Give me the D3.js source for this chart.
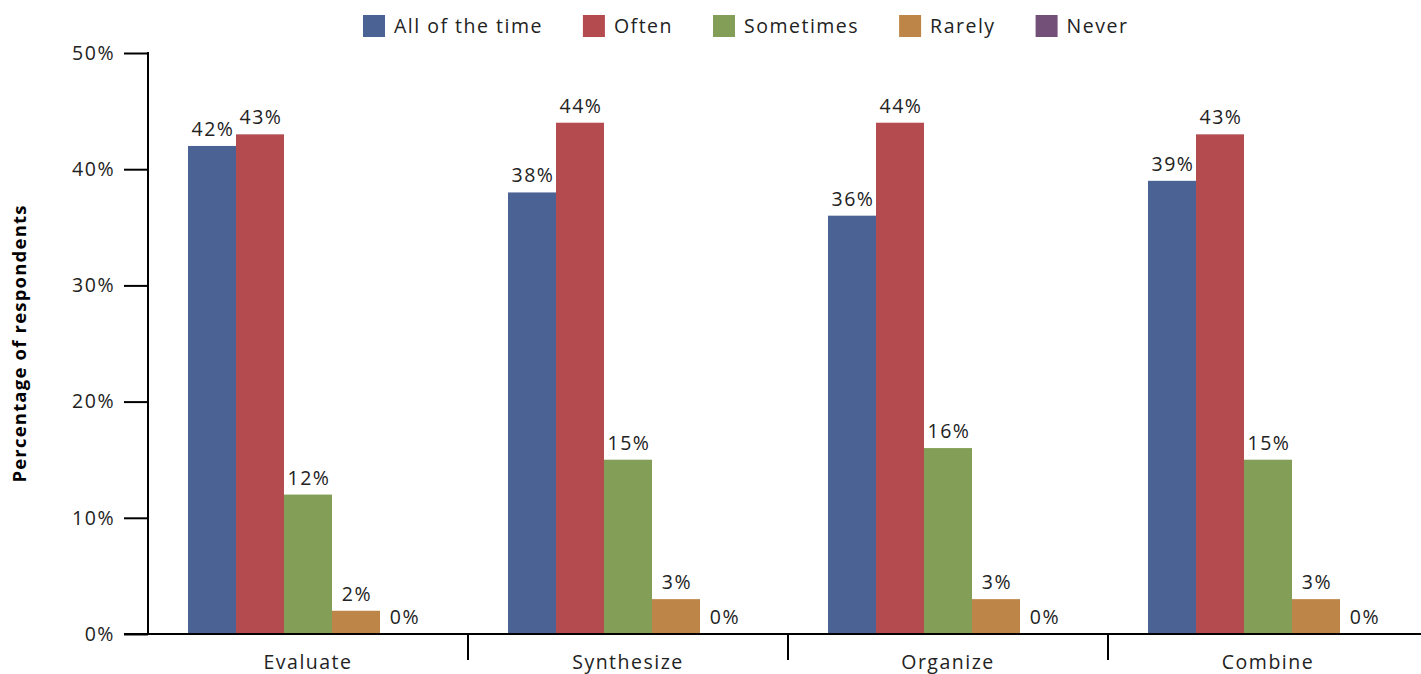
<!DOCTYPE html>
<html>
<head>
<meta charset="utf-8">
<script src="https://cdn.jsdelivr.net/npm/d3@7"></script>
<style>
  body { margin: 0; background: #fff; }
  svg { font-family: "Open Sans", "DejaVu Sans", sans-serif; }
</style>
</head>
<body>
<div id="chart"></div>
<script>
// data
var categories = ["Evaluate", "Synthesize", "Organize", "Combine"];
var seriesNames = ["All of the time", "Often", "Sometimes", "Rarely", "Never"];
var allOfTheTime = [42, 38, 36, 39];
var often = [43, 44, 44, 43];
var sometimes = [12, 15, 16, 15];
var rarely = [2, 3, 3, 3];
var never = [0, 0, 0, 0];
var yTicks = [0, 10, 20, 30, 40, 50];
var colors = ["#4a6394", "#b34b4f", "#839e57", "#be8548", "#725077"];

var seriesValues = [allOfTheTime, often, sometimes, rarely, never];

var svgWidth = 1421;
var svgHeight = 674;
var margin = { top: 53, left: 148, bottom: 40 };
var spacing = "1.5px";

var svg = d3.select("#chart").append("svg")
  .attr("width", svgWidth)
  .attr("height", svgHeight);

var x0 = d3.scaleBand()
  .domain(categories)
  .range([margin.left, margin.left + 1280]);

var x1 = d3.scaleBand()
  .domain(seriesNames)
  .range([40, 280]);

var y = d3.scaleLinear()
  .domain([0, 50])
  .range([svgHeight - margin.bottom, margin.top]);

// bars
var groups = svg.selectAll("g.group")
  .data(categories)
  .enter()
  .append("g")
  .attr("class", "group")
  .attr("transform", d => `translate(${x0(d)},0)`);

groups.selectAll("rect")
  .data((c, i) => seriesNames.map((s, j) => ({ s: s, v: seriesValues[j][i], c: colors[j] })))
  .enter()
  .append("rect")
  .attr("x", d => x1(d.s))
  .attr("width", x1.bandwidth())
  .attr("y", d => y(d.v))
  .attr("height", d => y(0) - y(d.v))
  .attr("fill", d => d.c);

groups.selectAll("text.val")
  .data((c, i) => seriesNames.map((s, j) => ({ s: s, v: seriesValues[j][i] })))
  .enter()
  .append("text")
  .attr("class", "val")
  .attr("x", d => x1(d.s) + x1.bandwidth() / 2 + 1)
  .attr("y", d => y(d.v) - 10)
  .attr("text-anchor", "middle")
  .attr("font-size", "19.5px")
  .style("letter-spacing", spacing)
  .attr("fill", "#222")
  .text(d => d.v + "%");

// y axis
var leftAxis = d3.axisLeft(y)
  .tickValues(yTicks)
  .tickSize(24)
  .tickPadding(9)
  .tickFormat(d => d + "%");

var yAxisG = svg.append("g")
  .attr("transform", `translate(${margin.left},0)`)
  .call(leftAxis);
yAxisG.select(".domain").remove();
yAxisG.selectAll(".tick line").attr("stroke", "#000").attr("stroke-width", 2);
yAxisG.selectAll(".tick text")
  .attr("font-size", "19.5px")
  .attr("font-family", "Open Sans, DejaVu Sans, sans-serif")
  .style("letter-spacing", spacing)
  .attr("fill", "#222");

svg.append("line")
  .attr("x1", margin.left).attr("x2", margin.left)
  .attr("y1", y(50) - 1).attr("y2", y(0))
  .attr("stroke", "#000").attr("stroke-width", 2);

// x axis
svg.append("line")
  .attr("x1", margin.left - 24).attr("x2", svgWidth)
  .attr("y1", y(0)).attr("y2", y(0))
  .attr("stroke", "#000").attr("stroke-width", 2);

svg.selectAll("line.sep")
  .data(categories.slice(1))
  .enter()
  .append("line")
  .attr("class", "sep")
  .attr("x1", d => x0(d)).attr("x2", d => x0(d))
  .attr("y1", y(0)).attr("y2", y(0) + 26)
  .attr("stroke", "#000").attr("stroke-width", 2);

svg.selectAll("text.cat")
  .data(categories)
  .enter()
  .append("text")
  .attr("class", "cat")
  .attr("x", d => x0(d) + x0.bandwidth() / 2)
  .attr("y", y(0) + 35)
  .attr("text-anchor", "middle")
  .attr("font-size", "19.5px")
  .style("letter-spacing", spacing)
  .attr("fill", "#222")
  .text(d => d);

// y label
svg.append("text")
  .attr("transform", `translate(26, ${(y(0) + y(50)) / 2}) rotate(-90)`)
  .attr("text-anchor", "middle")
  .attr("font-size", "18.5px")
  .attr("font-weight", "bold")
  .style("letter-spacing", "1.2px")
  .attr("fill", "#000")
  .text("Percentage of respondents");

// legend
var legend = svg.append("g").attr("transform", "translate(363,15)");
var lx = 0;
seriesNames.forEach(function (name, i) {
  var item = legend.append("g").attr("transform", `translate(${lx},0)`);
  item.append("rect")
    .attr("width", 22).attr("height", 22)
    .attr("fill", colors[i]);
  var t = item.append("text")
    .attr("x", 31)
    .attr("y", 18)
    .attr("font-size", "19.5px")
    .style("letter-spacing", spacing)
    .attr("fill", "#222")
    .text(name);
  lx += 31 + t.node().getComputedTextLength() + 40;
});
</script>
</body>
</html>
